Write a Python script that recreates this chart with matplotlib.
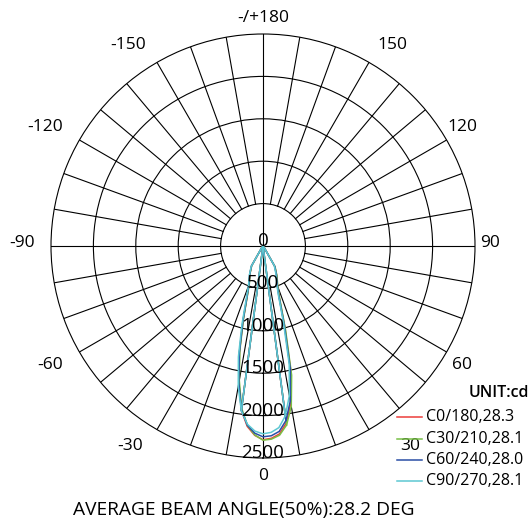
import numpy as np
import matplotlib
matplotlib.use("Agg")
import matplotlib.pyplot as plt
from matplotlib.lines import Line2D

# Vertical angle (deg) of each measurement
gamma = [0, 2.5, 5, 7.5, 10, 12.5, 15, 17.5, 20, 25, 30, 35, 40, 60, 90]

# Luminous intensity (cd) per C-plane half
c0   = [2285, 2270, 2225, 2105, 1885, 1525, 1000, 640, 500, 380, 280, 30, 0, 0, 0]
c180 = [2285, 2235, 2135, 1955, 1635, 1285, 905, 620, 480, 370, 270, 30, 0, 0, 0]
c30  = [2290, 2280, 2240, 2130, 1920, 1560, 1030, 660, 510, 390, 285, 35, 0, 0, 0]
c210 = [2290, 2230, 2120, 1930, 1610, 1260, 890, 610, 470, 365, 265, 30, 0, 0, 0]
c60  = [2250, 2240, 2195, 2075, 1855, 1490, 975, 625, 490, 375, 275, 30, 0, 0, 0]
c240 = [2250, 2210, 2120, 1950, 1640, 1290, 915, 630, 485, 372, 272, 30, 0, 0, 0]
c90  = [2215, 2200, 2150, 2020, 1790, 1430, 930, 600, 470, 360, 265, 28, 0, 0, 0]
c270 = [2215, 2185, 2110, 1960, 1680, 1340, 960, 660, 500, 380, 280, 32, 0, 0, 0]

plane_labels = ["C0/180,28.3", "C30/210,28.1", "C60/240,28.0", "C90/270,28.1"]
plane_colors = ["#ec3d3a", "#78c046", "#2a4ea6", "#5cc8d2"]
plane_data = [(c0, c180), (c30, c210), (c60, c240), (c90, c270)]

ring_values = [0, 500, 1000, 1500, 2000, 2500]
angle_labels = ["-/+180", "150", "120", "90", "60", "30", "0",
                "-30", "-60", "-90", "-120", "-150"]
# label anchor (theta deg, radius cd)
angle_label_pos = [(180, 2690), (147.3, 2820), (120.9, 2740), (90.8, 2680),
                   (59.1, 2740), (36.3, 2925), (0, 2712), (-33.6, 2830),
                   (-60.8, 2877), (-90.7, 2842), (-118.6, 2925), (-146.1, 2854)]

title = "AVERAGE BEAM ANGLE(50%):28.2 DEG"
unit_text = "UNIT:cd"

FONT = "Open Sans"
W, H = 530, 527
fig = plt.figure(figsize=(W / 100, H / 100), dpi=100)
cx, cy, R = 263, 246, 212
ax = fig.add_axes([(cx - R) / W, (H - cy - R) / H, 2 * R / W, 2 * R / H],
                  projection="polar")
ax.set_theta_zero_location("S")
ax.set_theta_direction(1)
ax.set_ylim(0, 2500)
ax.set_xticks([])
ax.set_yticks(ring_values[1:-1])
ax.set_yticklabels([])
ax.tick_params(length=0)
ax.xaxis.grid(False)
ax.yaxis.grid(True, color="black", lw=0.8)
ax.spines["polar"].set_color("black")
ax.spines["polar"].set_linewidth(0.8)

# radial grid every 10 degrees; main axes run through the centre
for t in range(0, 360, 10):
    r0 = 0 if t % 90 == 0 else ring_values[1]
    ax.plot([np.deg2rad(t)] * 2, [r0, ring_values[-1]], color="black",
            lw=0.8, zorder=1)

g = np.deg2rad(np.array(gamma))
for (right, left), col in zip(plane_data, plane_colors):
    theta = np.concatenate([-g[::-1], g[1:]])
    inten = np.concatenate([np.array(left)[::-1], np.array(right)[1:]])
    ax.plot(theta, inten, color=col, lw=1.1, zorder=3)
    k = gamma.index(7.5)
    ax.plot([g[k], g[k]], [0, right[k]], color=col, lw=1.1, zorder=3)
    ax.plot([-g[k], -g[k]], [0, left[k]], color=col, lw=1.1, zorder=3)

for v in ring_values:
    ax.text(0, v, str(v), ha="center", va="baseline", fontsize=13.5,
            family=FONT, zorder=5)

for s, (t, r) in zip(angle_labels, angle_label_pos):
    ax.text(np.deg2rad(t), r, s, ha="center", va="center", fontsize=12.5,
            family=FONT, clip_on=False)

# legend
def fx(x):
    return x / W

def fy(y):
    return 1 - y / H

fig.text(fx(529), fy(393), unit_text, ha="right", va="center", fontsize=11.5,
         family=FONT, fontweight="semibold")
rows = [417, 439, 460, 481]
for lab, col, y in zip(plane_labels, plane_colors, rows):
    fig.add_artist(Line2D([fx(397), fx(422)], [fy(y), fy(y)], color=col, lw=1.1,
                          transform=fig.transFigure))
    fig.text(fx(426), fy(y), lab, ha="left", va="center", fontsize=11.5,
             family=FONT)

fig.text(fx(244), fy(510), title, ha="center", va="center", fontsize=13.8,
         family=FONT)

fig.savefig("out.png", dpi=100)
